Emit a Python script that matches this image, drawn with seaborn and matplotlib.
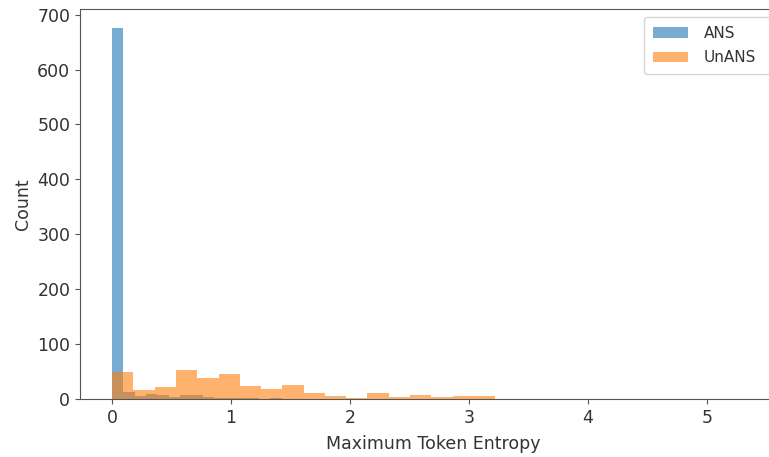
import matplotlib
matplotlib.use("Agg")
import matplotlib.pyplot as plt
import numpy as np
import pandas as pd
import seaborn as sns

# bin edges
ans_edges = np.linspace(0, 5.415, 58)      # 57 bins, width ~0.095
unans_edges = np.linspace(0, 3.22, 19)     # 18 bins, width ~0.179

ans_counts = [676, 13, 6, 9, 8, 4, 7, 7, 3, 2, 2, 1, 1, 0, 1] + [0] * 42
unans_counts = [50, 16, 22, 53, 39, 45, 23, 18, 25, 11, 5, 2, 10, 3, 7, 4, 5, 5]

ans_df = pd.DataFrame({"entropy": (ans_edges[:-1] + ans_edges[1:]) / 2,
                       "count": ans_counts})
unans_df = pd.DataFrame({"entropy": (unans_edges[:-1] + unans_edges[1:]) / 2,
                         "count": unans_counts})

plt.rcParams["font.family"] = ["DejaVu Sans"]

fig = plt.figure(figsize=(7.69, 4.57), dpi=100)
ax = fig.add_axes([0.104, 0.127, 0.919, 0.853])

sns.histplot(data=ans_df, x="entropy", weights="count", bins=list(ans_edges),
             color="#1f77b4", alpha=0.6, linewidth=0, label="ANS", ax=ax)
sns.histplot(data=unans_df, x="entropy", weights="count", bins=list(unans_edges),
             color="#ff7f0e", alpha=0.6, linewidth=0, label="UnANS", ax=ax)

ax.set_xlim(-0.27, 5.67)
ax.set_ylim(0, 710)
ax.set_xticks([0, 1, 2, 3, 4, 5])
ax.set_yticks(range(0, 701, 100))
ax.set_xlabel("Maximum Token Entropy", fontsize=12.5, color="#333333",
              labelpad=6)
ax.set_ylabel("Count", fontsize=12.5, color="#333333")
ax.tick_params(labelsize=12.5, labelcolor="#333333", color="#555555")
for s in ax.spines.values():
    s.set_color("#555555")

# legend runs past the cropped right edge, as in the reference
ax.legend(loc="upper left",
          bbox_to_anchor=(644 / 769, 1 - 76 / 457, 140 / 769, 59 / 457),
          bbox_transform=fig.transFigure, mode="expand", borderaxespad=0,
          fontsize=11, borderpad=0.6, handlelength=2.3, handletextpad=1.0,
          labelspacing=0.6, labelcolor="#333333")

fig.savefig("out.png", dpi=100)
